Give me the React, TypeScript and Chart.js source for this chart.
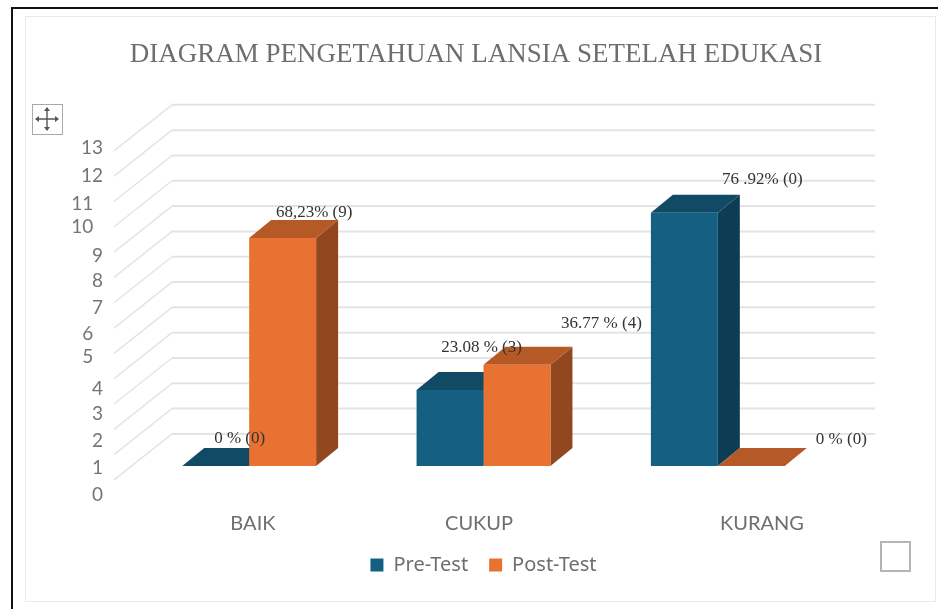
import React, { useEffect, useRef } from "react";
import { Chart, registerables } from "chart.js";

Chart.register(...registerables);

const categories = ["BAIK", "CUKUP", "KURANG"];
const preTest = [0, 3, 10];
const postTest = [9, 4, 0];
const preLabels = ["0 % (0)", "23.08 % (3)", "76 .92% (0)"];
const postLabels = ["68,23% (9)", "36.77 % (4)", "0 % (0)"];
const yTickLabels = ["0", "1", "2", "3", "4", "5", "6", "7", "8", "9", "10", "11", "12", "13"];
const titleText = "DIAGRAM PENGETAHUAN LANSIA SETELAH EDUKASI";

const SANS = "Lato, 'Noto Sans', sans-serif";
const SERIF = "'Liberation Serif', serif";
const UNIT = 25.25;
const FRONT_ZERO_Y = 465;
const AREA_TOP = 100;
const AREA_BOTTOM = 497;
const yMin = -(AREA_BOTTOM - FRONT_ZERO_Y) / UNIT;
const yMax = (FRONT_ZERO_Y - AREA_TOP) / UNIT;

// hand-placed axis text in the source picture: where each label sits on the value scale
const yLabelPixel = [494, 467, 440, 413, 388, 356, 333, 307, 280, 255, 227, 204, 176, 148];
const yLabelShifted = new Set(["5", "6", "10", "11"]);
const xLabelAt = [0.016, 0.981, 2.188];
// label nudges from each bar's front top centre
const preNudge = [[24, -27], [31.5, -42], [78, -33]];
const postNudge = [[31.5, -26], [84.5, -41], [90, -26]];

const faces = [
  { top: "#104a64", side: "#0d3d52" },
  { top: "#b55a26", side: "#93471e" },
];

const depthPlugin = {
  id: "depth",
  beforeDatasetsDraw(chart: any) {
    const { ctx, chartArea: a, scales } = chart;
    const wallL = a.left + 40;
    const wallR = a.right + 40;
    const frontL = a.left - 18;
    ctx.save();
    scales.y.ticks
      .map((t: any) => t.value)
      .filter((v: number) => Number.isInteger(v) && v >= 0 && v <= 13)
      .forEach((v: number) => {
        const y = scales.y.getPixelForValue(v) - 32;
        ctx.strokeStyle = "#e4e4e4";
        ctx.lineWidth = 2;
        ctx.beginPath();
        ctx.moveTo(wallR, y);
        ctx.lineTo(wallL, y);
        ctx.stroke();
        ctx.lineWidth = 1.5;
        ctx.beginPath();
        ctx.moveTo(wallL, y);
        ctx.lineTo(frontL, y + 46);
        ctx.stroke();
      });
    const dx = 22;
    const dy = 18;
    chart.data.datasets.forEach((_: any, di: number) => {
      chart.getDatasetMeta(di).data.forEach((bar: any) => {
        const half = bar.width / 2;
        const l = bar.x - half;
        const r = bar.x + half;
        const t = bar.y;
        const b = bar.base;
        ctx.fillStyle = faces[di].side;
        ctx.beginPath();
        ctx.moveTo(r, t);
        ctx.lineTo(r + dx, t - dy);
        ctx.lineTo(r + dx, b - dy);
        ctx.lineTo(r, b);
        ctx.closePath();
        ctx.fill();
        ctx.fillStyle = faces[di].top;
        ctx.beginPath();
        ctx.moveTo(l, t);
        ctx.lineTo(l + dx, t - dy);
        ctx.lineTo(r + dx, t - dy);
        ctx.lineTo(r, t);
        ctx.closePath();
        ctx.fill();
      });
    });
    ctx.restore();
  },
  afterDatasetsDraw(chart: any) {
    const { ctx } = chart;
    ctx.save();
    ctx.font = `17px ${SERIF}`;
    ctx.fillStyle = "#333333";
    ctx.textAlign = "center";
    ctx.textBaseline = "middle";
    [preLabels, postLabels].forEach((labels, di) => {
      const nudge = di === 0 ? preNudge : postNudge;
      chart.getDatasetMeta(di).data.forEach((bar: any, i: number) => {
        ctx.fillText(labels[i], bar.x + nudge[i][0], bar.y + nudge[i][1]);
      });
    });
    ctx.restore();
  },
};

export default function App() {
  const ref = useRef<HTMLCanvasElement>(null);
  useEffect(() => {
    const chart = new Chart(ref.current as HTMLCanvasElement, {
      type: "bar",
      data: {
        labels: categories,
        datasets: [
          { label: "Pre-Test", data: preTest, backgroundColor: "#156082", borderWidth: 0, categoryPercentage: 0.5714, barPercentage: 1 },
          { label: "Post-Test", data: postTest, backgroundColor: "#e97132", borderWidth: 0, categoryPercentage: 0.5714, barPercentage: 1 },
        ],
      },
      options: {
        responsive: false,
        animation: false,
        layout: { padding: { left: 0, right: 0, top: 0, bottom: 24 } },
        plugins: {
          title: {
            display: true,
            text: titleText,
            color: "#6e6e6e",
            font: { family: SERIF, size: 27, weight: "normal" },
            padding: { top: 39, bottom: 28.6 },
          },
          legend: {
            position: "bottom",
            fullSize: false,
            labels: {
              color: "#6e6e6e",
              font: { family: "'Noto Sans', sans-serif", size: 20 },
              boxWidth: 13,
              boxHeight: 13,
              padding: 21,
            },
          },
          tooltip: { enabled: false },
        },
        scales: {
          x: { display: false, type: "category" },
          x2: {
            type: "linear",
            position: "bottom",
            offset: false,
            min: -0.5,
            max: 2.5,
            grid: { display: false, drawTicks: false },
            border: { display: false },
            afterBuildTicks: (s: any) => {
              s.ticks = xLabelAt.map((value) => ({ value }));
            },
            afterFit: (s: any) => {
              s.height = 36;
            },
            ticks: {
              autoSkip: false,
              maxRotation: 0,
              padding: 14,
              color: "#6e6e6e",
              font: { family: SANS, size: 20 },
              callback: (_: any, i: number) => categories[i],
            },
          },
          y: {
            display: false,
            min: yMin,
            max: yMax,
            ticks: { stepSize: 1, includeBounds: false },
          },
          y2: {
            type: "linear",
            position: "left",
            min: yMin,
            max: yMax,
            grid: { display: false, drawTicks: false },
            border: { display: false },
            afterBuildTicks: (s: any) => {
              s.ticks = yLabelPixel.map((p) => ({ value: (FRONT_ZERO_Y - p) / UNIT }));
            },
            afterFit: (s: any) => {
              s.width = 118;
            },
            ticks: {
              autoSkip: false,
              padding: 29,
              color: "#757575",
              font: { family: SANS, size: 19 },
              callback: (_: any, i: number) =>
                yLabelShifted.has(yTickLabels[i]) ? yTickLabels[i] + "  " : yTickLabels[i],
            },
          },
          rightGap: {
            type: "linear",
            position: "right",
            grid: { display: false, drawTicks: false },
            border: { display: false },
            ticks: { display: false },
            afterFit: (s: any) => {
              s.width = 103;
            },
          },
        },
      },
      plugins: [depthPlugin],
    } as any);
    return () => chart.destroy();
  }, []);

  const abs = (s: React.CSSProperties): React.CSSProperties => ({ position: "absolute", boxSizing: "border-box", ...s });
  return (
    <div style={{ position: "fixed", left: 0, top: 0, width: 938, height: 609, background: "#fff", overflow: "hidden" }}>
      <div style={abs({ left: 11, top: 7, width: 927, height: 602, borderTop: "2px solid #111", borderLeft: "2px solid #111" })} />
      <div style={abs({ left: 25, top: 16, width: 911, height: 586, border: "1.5px solid #e9e9e9" })} />
      <canvas ref={ref} width={924} height={609} style={{ position: "absolute", left: 14, top: 0, filter: "blur(0.6px)" }} />
      <div style={abs({ left: 32, top: 104, width: 31, height: 31, border: "1.5px solid #a8a8a8", background: "#fff" })}>
        <svg width="28" height="28" viewBox="0 0 28 28">
          <path d="M14 3V25M3 14H25" stroke="#555" strokeWidth="1.4" fill="none" />
          <path d="M14 2l-3 4h6zM14 26l-3-4h6zM2 14l4-3v6zM26 14l-4-3v6z" fill="#555" />
        </svg>
      </div>
      <div style={abs({ left: 880, top: 541, width: 31, height: 31, border: "2px solid #b5b5b5", background: "#fff" })} />
    </div>
  );
}
